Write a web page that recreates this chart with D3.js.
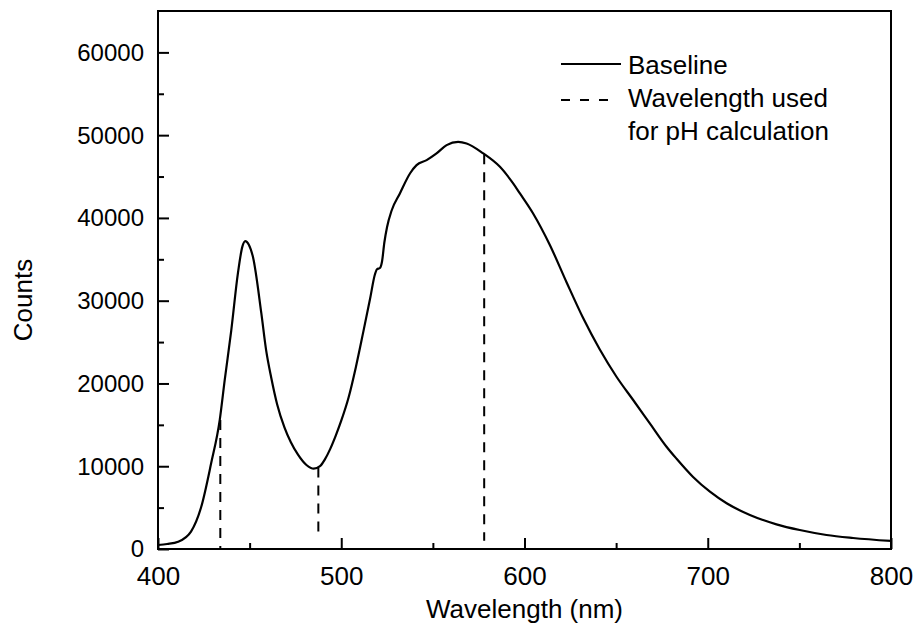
<!DOCTYPE html>
<html>
<head>
<meta charset="utf-8">
<script src="https://cdn.jsdelivr.net/npm/d3@7"></script>
<style>
  body { margin: 0; background: #fff; }
  text { font-family: "Liberation Sans", Arial, sans-serif; fill: #000; }
</style>
</head>
<body>
<svg id="chart" width="914" height="632"></svg>
<script>
// spectrum
const wavelength = [400, 405, 411, 418, 423.6, 429, 433.7, 436.4, 440, 443.6, 446, 447.6, 449.5, 451.8,
  456.4, 459, 461.8, 465, 469, 472.5, 476.4, 481, 485, 488.4, 491, 494, 497, 500, 504, 508, 512,
  515.7, 518.4, 519.5, 521.1, 522.3, 523.5, 525, 527.5, 532, 537.5, 541.1, 546.6, 552, 557.5,
  563.8, 568.4, 577.5, 586.6, 593.8, 597.5, 604.7, 613.9, 623, 632, 641.1, 650.2, 659.3, 668.4,
  677.5, 683, 692, 701.2, 710.3, 723, 737.5, 750.2, 764.8, 779.3, 800];
const counts = [480, 600, 880, 2100, 5100, 10350, 15600, 20400, 26450, 33300, 36500, 37200, 36800, 35300,
  28460, 24030, 20700, 17500, 14700, 12900, 11400, 10150, 9700, 10000, 10800, 12100, 13700, 15500, 18300,
  22000, 26200, 30200, 33200, 33800, 33950, 34800, 37000, 38900, 40900, 42960, 45370, 46380, 46980,
  47790, 48790, 49190, 49000, 47790, 46170, 44170, 42960, 40540, 36700, 32200, 27900, 24100, 20810,
  18000, 15180, 12360, 10900, 8700, 6920, 5520, 4110, 2980, 2290, 1690, 1330, 970];

// wavelengths used for pH calculation (dashed markers)
const markerWl = [434, 487.5, 578];
const markerTop = [15600, 9850, 47700];
const markerBottom = [0, 2100, 1000];

const xTicks = [400, 500, 600, 700, 800];
const yTicks = [0, 10000, 20000, 30000, 40000, 50000, 60000];
const legendLabels = ["Baseline", "Wavelength used", "for pH calculation"];

const svg = d3.select("#chart");
const plotL = 158, plotR = 891, plotT = 11, plotB = 549;

const x = d3.scaleLinear().domain([400, 800]).range([plotL, plotR]);
const y = d3.scaleLinear().domain([0, 65000]).range([plotB, plotT]);

const data = wavelength.map((w, i) => ({ w, c: counts[i] }));

// curve
const line = d3.line()
  .x(d => x(d.w))
  .y(d => y(d.c))
  .curve(d3.curveMonotoneX);

svg.append("path")
  .datum(data)
  .attr("d", line)
  .attr("fill", "none")
  .attr("stroke", "#000")
  .attr("stroke-width", 2.2);

// dashed markers
svg.selectAll(".marker")
  .data(markerWl)
  .enter()
  .append("line")
  .attr("class", "marker")
  .attr("x1", d => x(d)).attr("x2", d => x(d))
  .attr("y1", (d, i) => y(markerTop[i]))
  .attr("y2", (d, i) => y(markerBottom[i]))
  .attr("stroke", "#000")
  .attr("stroke-width", 2)
  .attr("stroke-dasharray", "10,8");

// frame
svg.append("rect")
  .attr("x", plotL).attr("y", plotT)
  .attr("width", plotR - plotL).attr("height", plotB - plotT)
  .attr("fill", "none")
  .attr("stroke", "#000")
  .attr("stroke-width", 2);

// x axis: ticks inward
const xAxis = svg.append("g").attr("transform", `translate(0,${plotB})`);
xAxis.call(d3.axisBottom(x).tickValues(d3.range(400, 801, 50)).tickSize(0).tickFormat(""));
xAxis.select(".domain").remove();
xAxis.selectAll(".tick line")
  .attr("y2", d => d % 100 === 0 ? -11 : -6)
  .attr("stroke", "#000").attr("stroke-width", 2);
xAxis.selectAll(".tick")
  .filter(d => xTicks.includes(d))
  .append("text")
  .attr("y", 36)
  .attr("text-anchor", "middle")
  .style("font-size", "26px")
  .text(d => d);

// y axis
const yAxis = svg.append("g").attr("transform", `translate(${plotL},0)`);
yAxis.call(d3.axisLeft(y).tickValues(d3.range(0, 60001, 5000)).tickSize(0).tickFormat(""));
yAxis.select(".domain").remove();
yAxis.selectAll(".tick line")
  .attr("x2", d => d % 10000 === 0 ? 11 : 6)
  .attr("stroke", "#000").attr("stroke-width", 2);
yAxis.selectAll(".tick")
  .filter(d => yTicks.includes(d))
  .append("text")
  .attr("x", -14)
  .attr("dy", "0.33em")
  .attr("text-anchor", "end")
  .style("font-size", "24px")
  .text(d => d);

// axis titles
svg.append("text")
  .attr("x", (plotL + plotR) / 2)
  .attr("y", 618)
  .attr("text-anchor", "middle")
  .style("font-size", "26px")
  .text("Wavelength (nm)");

svg.append("text")
  .attr("transform", "translate(32,300) rotate(-90)")
  .attr("text-anchor", "middle")
  .style("font-size", "26px")
  .text("Counts");

// legend
svg.append("line")
  .attr("x1", 561).attr("x2", 621).attr("y1", 64).attr("y2", 64)
  .attr("stroke", "#000").attr("stroke-width", 2);
svg.append("line")
  .attr("x1", 561).attr("x2", 609).attr("y1", 100).attr("y2", 100)
  .attr("stroke", "#000").attr("stroke-width", 2)
  .attr("stroke-dasharray", "9,10");

svg.selectAll(".legend-text")
  .data(legendLabels)
  .enter()
  .append("text")
  .attr("class", "legend-text")
  .attr("x", 628)
  .attr("y", (d, i) => 74 + i * 33)
  .style("font-size", "26px")
  .text(d => d);
</script>
</body>
</html>
